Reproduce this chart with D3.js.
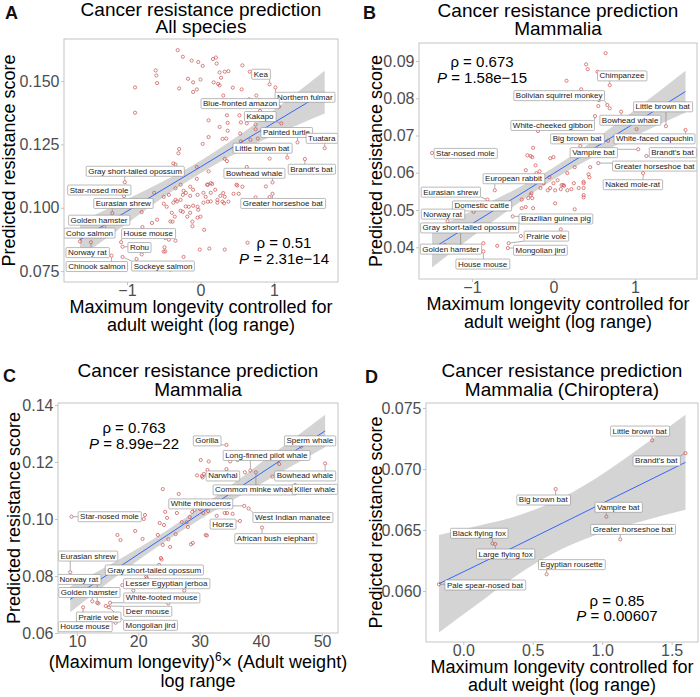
<!DOCTYPE html>
<html><head><meta charset="utf-8">
<script src="https://cdn.jsdelivr.net/npm/d3@7"></script>
<style>
body{margin:0;background:#fff}
svg{display:block}
text{font-family:"Liberation Sans",Arial,Helvetica,sans-serif}
</style>
</head><body>
<svg id="chart" width="700" height="697"></svg>
<script>
// ---------------- DATA ----------------
// Panel A: all species (x = max longevity controlled for weight, y = predicted score)
const speciesA = [
[-0.31,0.1622],[-0.24,0.1596],[-0.12,0.1581],[-0.03,0.1575],[0.03,0.1560],[0.17,0.1587],[0.21,0.1593],[0.22,0.1569],[0.57,0.1562],
[-0.61,0.1542],[-0.60,0.1522],[-0.59,0.1492],[-0.89,0.1475],[-0.89,0.1375],[-0.29,0.1471],[-0.17,0.1509],[-0.10,0.1495],[0.00,0.1506],[-0.10,0.1457],[-0.05,0.1467],
[0.26,0.1534],[0.33,0.1537],[0.38,0.1539],[0.18,0.1495],[0.24,0.1489],[0.26,0.1483],[0.28,0.1513],[0.31,0.1443],[0.44,0.1474],[0.56,0.1467],[0.76,0.1443],[0.67,0.1537],
[0.66,0.1428],[0.69,0.1425],[0.80,0.1425],[0.81,0.1382],
[0.11,0.1345],[0.26,0.1319],[0.36,0.1365],[0.37,0.1335],[0.37,0.1304],[0.53,0.1365],[0.55,0.1337],[0.63,0.1333],[0.75,0.1329],[0.75,0.1310],
[0.11,0.1279],[0.03,0.1252],[0.30,0.1272],[0.35,0.1273],[0.54,0.1293],[0.55,0.1262],[0.68,0.1268],[0.78,0.1273],
[-0.29,0.1232],[-0.30,0.1215],[-0.37,0.1175],[-0.34,0.1171],[-0.05,0.1161],[0.11,0.1144],[0.33,0.1193],[0.36,0.1184],[0.63,0.1161],[0.94,0.1194],
[-0.05,0.1114],[0.10,0.1091],[0.16,0.1094],[-0.14,0.1083],[-0.10,0.1071],[-0.23,0.1067],[-0.20,0.1059],[-0.24,0.1051],[-0.14,0.1047],[-0.04,0.1051],[0.04,0.1059],[0.07,0.1043],[0.14,0.1059],[-0.43,0.1051],[-0.50,0.1043],[-0.34,0.1031],[-0.37,0.1020],[-0.50,0.1016],[-0.46,0.1004],[-0.16,0.1004],[-0.10,0.1008],[-0.04,0.1004],[-0.03,0.0992],[0.04,0.1020],[0.10,0.1024],[0.23,0.1020],[0.30,0.1024],[0.33,0.1043],[0.27,0.1047],[0.38,0.1024],[0.45,0.1055],[0.52,0.1055],[0.49,0.1091],[0.57,0.1083],[-0.39,0.0980],[-0.35,0.0965],[-0.38,0.0945],[-0.27,0.0988],[-0.24,0.0984],[-0.18,0.0965],[-0.14,0.0980],[-0.11,0.0945],[-0.04,0.0961],[0.00,0.0965],[-0.63,0.1059],[-0.43,0.0874],[-0.34,0.0870],[0.64,0.0862],
[0.09,0.1091],[0.14,0.1097],[0.20,0.1071],[0.31,0.1058],[-0.32,0.1025],[-0.27,0.1031],[-0.20,0.1005],[0.14,0.1025],[-0.41,0.0946],[-0.45,0.0907],[-0.11,0.0927],[0.05,0.0913],[-0.66,0.0940],[-0.59,0.0953],[-0.27,0.1091],[-0.34,0.1077],
[-0.80,0.0983],[-0.79,0.0924],[-0.87,0.0798],[-0.80,0.0816],[-0.48,0.0881],[-0.49,0.0844],[-0.48,0.0828],[-0.50,0.0827],[-0.23,0.0806],[-0.01,0.0835],[0.12,0.0839],[0.33,0.0835],[-0.41,0.0756],
[0.50,0.1088],[0.89,0.1084],[0.75,0.1041],[0.94,0.1042],[0.23,0.1031],[0.32,0.1018]
];
const labelNamesA = ["Kea","Northern fulmar","Blue-fronted amazon","Kakapo","Painted turtle","Tuatara","Little brown bat","Brandt's bat","Gray short-tailed opossum","Bowhead whale","Star-nosed mole","Eurasian shrew","Greater horseshoe bat","Golden hamster","Coho salmon","House mouse","Rohu","Norway rat","Chinook salmon","Sockeye salmon"];
const labelPointsA = [[0.94,0.1487],[1.02,0.1475],[1.07,0.1399],[1.10,0.1333],[1.32,0.1258],[1.69,0.1235],[1.18,0.1198],[1.42,0.1192],[-1.03,0.1101],[0.98,0.1100],[-1.04,0.1046],[-1.20,0.0979],[0.98,0.1055],[-1.31,0.0925],[-1.64,0.0867],[-1.08,0.0864],[-1.06,0.0846],[-1.49,0.0864],[-1.21,0.0811],[-1.06,0.0806]];
const labelSpotsA = [[0.82,0.1527],[1.42,0.1436],[0.54,0.1411],[0.81,0.1360],[1.17,0.1297],[1.65,0.1274],[0.84,0.1235],[1.51,0.1152],[-0.89,0.1144],[0.73,0.1136],[-1.38,0.1070],[-1.05,0.1017],[1.12,0.1017],[-1.38,0.0951],[-1.51,0.0900],[-0.71,0.0898],[-0.83,0.0843],[-1.54,0.0823],[-1.41,0.0768],[-0.51,0.0770]];
const fitXA  = [-1.64,-1.0,-0.5,0,0.5,1.0,1.69];
const fitYA  = [0.0874,0.0986,0.1074,0.1161,0.1249,0.1336,0.1456];
const fitLoA = [0.0805,0.0938,0.1042,0.1136,0.1217,0.1286,0.1372];
const fitHiA = [0.0943,0.1034,0.1106,0.1186,0.1281,0.1386,0.1541];
const statsA = ["0.51","2.31e\u221214"];

// Panel B: Mammalia
const speciesB = [
[0.64,0.0921],[0.40,0.0891],[0.42,0.0878],[0.54,0.0871],[0.16,0.0847],[0.34,0.0824],[0.56,0.0795],[0.55,0.0779],[0.69,0.0773],[-0.19,0.0712],[1.02,0.0717],[0.33,0.0672],[-0.25,0.0667],
[-0.28,0.0645],[-0.26,0.0642],[-0.32,0.0647],[-0.04,0.0639],[0.00,0.0642],[-0.22,0.0620],[-0.17,0.0604],[-0.34,0.0607],[-0.05,0.0588],[0.00,0.0572],[0.05,0.0580],[0.10,0.0567],[0.12,0.0567],[0.13,0.0565],[0.22,0.0556],[0.25,0.0572],[0.31,0.0559],[0.37,0.0572],[0.37,0.0559],[0.45,0.0615],[0.43,0.0596],[-0.12,0.0572],[-0.16,0.0559],[-0.07,0.0553],[-0.04,0.0559],[0.02,0.0553],[0.09,0.0556],[0.17,0.0553],[-0.27,0.0545],[-0.31,0.0532],[-0.26,0.0532],[-0.25,0.0505],[-0.34,0.0508],[-0.39,0.0505],[0.02,0.0518],[0.26,0.0502],[0.37,0.0540],[0.09,0.0448],[-0.40,0.0430],[0.17,0.0599],[0.26,0.0615],[0.44,0.0588],[-0.21,0.0599],
[-0.69,0.0404],[-0.86,0.0411],[-0.20,0.0389],[-0.14,0.0388],[-0.54,0.0505],[-0.39,0.0528],[-0.28,0.0540],[0.37,0.0576],[0.37,0.0534]
];
const labelNamesB = ["Chimpanzee","Bolivian squirrel monkey","Little brown bat","Bowhead whale","White-cheeked gibbon","Big brown bat","White-faced capuchin","Star-nosed mole","Vampire bat","Brandt's bat","Greater horseshoe bat","Naked mole-rat","European rabbit","Eurasian shrew","Domestic cattle","Norway rat","Brazilian guinea pig","Gray short-tailed opossum","Prairie vole","Golden hamster","Mongolian jird","House mouse"];
const labelPointsB = [[0.69,0.0835],[0.66,0.0782],[1.38,0.0725],[0.83,0.0764],[0.51,0.0752],[0.67,0.0686],[1.62,0.0715],[-1.49,0.0653],[1.04,0.0663],[1.14,0.0645],[0.55,0.0626],[1.10,0.0599],[-0.72,0.0553],[-0.81,0.0528],[-0.98,0.0495],[-1.30,0.0470],[-0.50,0.0483],[-1.14,0.0404],[-0.55,0.0411],[-1.33,0.0406],[-0.56,0.0398],[-0.86,0.0389]];
const labelSpotsB = [[0.84,0.0860],[0.07,0.0807],[1.34,0.0777],[0.94,0.0741],[-0.01,0.0727],[0.29,0.0691],[1.24,0.0691],[-1.08,0.0652],[0.49,0.0654],[1.46,0.0654],[1.24,0.0618],[0.97,0.0568],[-0.49,0.0584],[-1.26,0.0548],[-0.88,0.0511],[-1.36,0.0489],[0.03,0.0476],[-1.03,0.0452],[-0.09,0.0430],[-1.26,0.0395],[-0.16,0.0392],[-0.87,0.0355]];
const fitXB  = [-1.49,-1.0,-0.5,0,0.5,1.0,1.62];
const fitYB  = [0.0396,0.0463,0.0530,0.0598,0.0666,0.0734,0.0818];
const fitLoB = [0.0346,0.0428,0.0508,0.0582,0.0644,0.0699,0.0762];
const fitHiB = [0.0446,0.0498,0.0552,0.0614,0.0688,0.0769,0.0874];
const statsB = ["0.673","1.58e\u221215"];

// Panel C: Mammalia, (max longevity)^6 x (adult weight)
const speciesC = [
[30.2,0.1207],[31.5,0.1202],[35.0,0.1202],[36.2,0.1207],[37.6,0.1215],[31.3,0.1172],[34.4,0.1175],[29.6,0.1153],[30.7,0.1158],[30.5,0.1146],[37.4,0.1164],[43.0,0.1193],[41.9,0.1149],[24.0,0.1105],[26.6,0.1088],[21.1,0.1014],[20.9,0.1000],
[24.4,0.1025],[23.5,0.0986],[24.2,0.0979],[24.7,0.1004],[26.3,0.1021],[28.8,0.1025],[29.2,0.1032],[30.1,0.1035],[30.6,0.1021],[31.4,0.1028],[28.4,0.1007],[27.9,0.0989],[27.1,0.0989],[28.1,0.0972],[23.2,0.0944],[24.0,0.0909],[25.2,0.0902],[26.1,0.0947],[34.1,0.1021],[34.5,0.1021],[35.4,0.1018],[32.8,0.1011],[31.0,0.0944],[28.9,0.0916],[23.7,0.0863],
[16.6,0.0944],[19.5,0.0958],[17.1,0.0926],[20.7,0.0930],[24.9,0.0929],[28.6,0.0911],[31.2,0.0942],[23.8,0.0858],[23.4,0.0839],[21.4,0.0792],[19.2,0.0749],[27.5,0.0749],[13.5,0.0704],[24.9,0.0704],[16.4,0.0657],[16.3,0.0636]
];
const labelNamesC = ["Gorilla","Sperm whale","Long-finned pilot whale","Narwhal","Bowhead whale","Common minke whale","Killer whale","White rhinoceros","Star-nosed mole","West Indian manatee","Horse","African bush elephant","Eurasian shrew","Gray short-tailed opossum","Norway rat","Lesser Egyptian jerboa","Golden hamster","White-footed mouse","Deer mouse","Prairie vole","Mongolian jird","House mouse"];
const labelPointsC = [[34.4,0.1260],[46.6,0.1254],[38.3,0.1170],[30.4,0.1151],[50.5,0.1195],[39.2,0.1164],[45.6,0.1119],[37.3,0.1046],[9.1,0.1008],[38.0,0.1037],[36.6,0.0993],[40.2,0.0970],[8.9,0.0813],[21.3,0.0798],[13.3,0.0706],[17.4,0.0768],[12.5,0.0711],[15.4,0.0706],[14.7,0.0695],[11.0,0.0690],[15.2,0.0690],[11.3,0.0646]];
const labelSpotsC = [[31.2,0.1274],[48.0,0.1274],[40.9,0.1223],[33.8,0.1151],[47.2,0.1151],[39.0,0.1102],[48.8,0.1104],[30.2,0.1053],[15.3,0.1008],[45.2,0.1005],[33.8,0.0982],[42.4,0.0931],[11.8,0.0870],[22.6,0.0821],[10.3,0.0788],[24.6,0.0773],[12.0,0.0742],[23.8,0.0723],[21.5,0.0676],[13.5,0.0656],[22.0,0.0627],[11.3,0.0622]];
const fitXC  = [8.9,15,20,25,30,35,40,45,50.5];
const fitYC  = [0.0718,0.0805,0.0876,0.0947,0.1018,0.1089,0.1160,0.1231,0.1309];
const fitLoC = [0.0673,0.0775,0.0855,0.0929,0.0997,0.1061,0.1123,0.1185,0.1252];
const fitHiC = [0.0763,0.0835,0.0897,0.0965,0.1039,0.1117,0.1197,0.1277,0.1366];
const statsC = ["0.763","8.99e\u221222"];

// Panel D: Chiroptera
const speciesD = [];
const labelNamesD = ["Little brown bat","Brandt's bat","Big brown bat","Vampire bat","Greater horseshoe bat","Black flying fox","Large flying fox","Egyptian rousette","Pale spear-nosed bat"];
const labelPointsD = [[1.36,0.07235],[1.60,0.0713],[0.665,0.06836],[1.03,0.06609],[1.13,0.06423],[0.21,0.0639],[0.23,0.06385],[0.60,0.06137],[-0.175,0.06055]];
const labelSpotsD = [[1.27,0.07311],[1.39,0.07066],[0.576,0.06746],[1.116,0.06686],[1.22,0.06505],[0.115,0.06473],[0.305,0.06303],[0.78,0.06216],[0.156,0.06049]];
const fitXD  = [-0.175,0.1,0.4,0.72,1.0,1.3,1.6];
const fitYD  = [0.0606,0.06212,0.06380,0.06560,0.06718,0.06886,0.07055];
const fitLoD = [0.0566,0.05892,0.0614,0.0635,0.06478,0.06576,0.06665];
const fitHiD = [0.0646,0.06532,0.0662,0.0677,0.06958,0.07196,0.07445];
const statsD = ["0.85","0.00607"];

// tick values
const xTicksA = [-1,0,1], yTicksA = [0.075,0.100,0.125,0.150];
const xTicksB = [-1,0,1], yTicksB = [0.04,0.05,0.06,0.07,0.08,0.09];
const xTicksC = [10,20,30,40,50], yTicksC = [0.06,0.08,0.10,0.12,0.14];
const xTicksD = [0.0,0.5,1.0,1.5], yTicksD = [0.060,0.065,0.070,0.075];

// ---------------- DRAWING ----------------
const svg = d3.select("#chart");
const POINT = "#c8504f", GRID = "#c4c4c4", TICKTXT = "#4d4d4d";
const xTitleStd = ["Maximum longevity controlled for","adult weight (log range)"];

const panels = [
 {letter:"A", lx:5, ly:19, rect:[64,39,338,282], xd:[-1.857,1.871], yd:[0.0707,0.1666],
  xt:xTicksA, yt:yTicksA, xf:d3.format(".0f"), yf:d3.format(".3f"),
  title:["Cancer resistance prediction","All species"], tb:[16,33], xTitle:xTitleStd, xtb:[313,331], ytx:15,
  pts:speciesA, names:labelNamesA, lp:labelPointsA, ls:labelSpotsA,
  fx:fitXA, fy:fitYA, flo:fitLoA, fhi:fitHiA, stats:statsA, sx:284, sb:[248,264]},
 {letter:"B", lx:363, ly:19, rect:[419,43,697,279], xd:[-1.650,1.761], yd:[0.03149,0.09483],
  xt:xTicksB, yt:yTicksB, xf:d3.format(".0f"), yf:d3.format(".2f"),
  title:["Cancer resistance prediction","Mammalia"], tb:[17,35], xTitle:xTitleStd, xtb:[310,328], ytx:382,
  pts:speciesB, names:labelNamesB, lp:labelPointsB, ls:labelSpotsB,
  fx:fitXB, fy:fitYB, flo:fitLoB, fhi:fitHiB, stats:statsB, sx:482, sb:[67,83]},
 {letter:"C", lx:3, ly:382, rect:[58,403,338,633], xd:[6.90,52.6], yd:[0.060,0.1407],
  xt:xTicksC, yt:yTicksC, xf:d3.format(".0f"), yf:d3.format(".2f"),
  title:["Cancer resistance prediction","Mammalia"], tb:[377,396], xTitle:null, xtb:[668,687], ytx:20,
  pts:speciesC, names:labelNamesC, lp:labelPointsC, ls:labelSpotsC,
  fx:fitXC, fy:fitYC, flo:fitLoC, fhi:fitHiC, stats:statsC, sx:134, sb:[433,449]},
 {letter:"D", lx:365, ly:383, rect:[426,403,698,642], xd:[-0.2685,1.690], yd:[0.05582,0.07541],
  xt:xTicksD, yt:yTicksD, xf:d3.format(".1f"), yf:d3.format(".3f"),
  title:["Cancer resistance prediction","Mammalia (Chiroptera)"], tb:[377,396], xTitle:xTitleStd, xtb:[673,691], ytx:382,
  pts:speciesD, names:labelNamesD, lp:labelPointsD, ls:labelSpotsD,
  fx:fitXD, fy:fitYD, flo:fitLoD, fhi:fitHiD, stats:statsD, sx:617, sb:[606,621]}
];

const minus = s => s.replace("-", "\u2212");

panels.forEach(p => {
  const [l,t,r,b] = p.rect;
  const x = d3.scaleLinear().domain(p.xd).range([l,r]);
  const y = d3.scaleLinear().domain(p.yd).range([b,t]);
  const g = svg.append("g");
  const clipId = "clip"+p.letter;
  g.append("clipPath").attr("id",clipId).append("rect").attr("x",l).attr("y",t).attr("width",r-l).attr("height",b-t);

  g.append("rect").attr("x",l).attr("y",t).attr("width",r-l).attr("height",b-t).attr("fill","#fff");

  // axes (ticks + labels)
  const xa = d3.axisBottom(x).tickValues(p.xt).tickSize(3).tickPadding(1).tickFormat(d => minus(p.xf(d)));
  const ya = d3.axisLeft(y).tickValues(p.yt).tickSize(3).tickPadding(1.5).tickFormat(d => p.yf(d));
  const gx = g.append("g").attr("transform",`translate(0,${b})`).call(xa);
  const gy = g.append("g").attr("transform",`translate(${l},0)`).call(ya);
  [gx,gy].forEach(a => {
    a.select(".domain").remove();
    a.selectAll(".tick line").attr("stroke",GRID).attr("stroke-width",1);
    a.selectAll(".tick text").attr("fill",TICKTXT).attr("font-size",16)
      .attr("font-family",'"Liberation Sans",Arial,sans-serif');
  });
  gx.selectAll(".tick text").attr("y",14).attr("dy",0);

  const inner = g.append("g").attr("clip-path",`url(#${clipId})`);
  // confidence band
  const fit = p.fx.map((v,i)=>({x:v, y:p.fy[i], lo:p.flo[i], hi:p.fhi[i]}));
  inner.append("path").datum(fit)
    .attr("d", d3.area().x(d=>x(d.x)).y0(d=>y(d.lo)).y1(d=>y(d.hi)).curve(d3.curveMonotoneX))
    .attr("fill","#d4d4d4");
  // points
  const allPts = p.pts.concat(p.lp);
  inner.selectAll("circle.pt").data(allPts).join("circle")
    .attr("cx",d=>x(d[0])).attr("cy",d=>y(d[1])).attr("r",1.6)
    .attr("fill","none").attr("stroke",POINT).attr("stroke-width",0.7);
  // regression line
  inner.append("path").datum(fit)
    .attr("d", d3.line().x(d=>x(d.x)).y(d=>y(d.y)))
    .attr("fill","none").attr("stroke","#3366ff").attr("stroke-width",1);

  // labels
  const segG = inner.append("g");
  const labG = inner.append("g");
  p.names.forEach((name,i) => {
    const cx = x(p.ls[i][0]), cy = y(p.ls[i][1]);
    const txt = labG.append("text").attr("x",cx).attr("y",cy)
      .attr("text-anchor","middle").attr("dominant-baseline","central")
      .attr("font-size",8).attr("fill","#1a1a1a").text(name);
    const bb = txt.node().getBBox();
    const x0 = bb.x-2, x1 = bb.x+bb.width+2, y0 = bb.y-0.5, y1 = bb.y+bb.height+0.5;
    labG.insert("rect", () => txt.node())
      .attr("x",x0).attr("y",y0).attr("width",x1-x0).attr("height",y1-y0)
      .attr("rx",1).attr("fill","#fff").attr("stroke","#8c8c8c").attr("stroke-width",0.6);
    const px = x(p.lp[i][0]), py = y(p.lp[i][1]);
    const qx = Math.max(x0, Math.min(x1, px)), qy = Math.max(y0, Math.min(y1, py));
    const dist = Math.hypot(qx-px, qy-py);
    if (dist > 2.5) {
      const k = 1.8/dist;
      segG.append("line").attr("x1",px+(qx-px)*k).attr("y1",py+(qy-py)*k).attr("x2",qx).attr("y2",qy)
        .attr("stroke","#7a7a7a").attr("stroke-width",0.6);
    }
  });

  // panel border
  g.append("rect").attr("x",l).attr("y",t).attr("width",r-l).attr("height",b-t)
    .attr("fill","none").attr("stroke",GRID).attr("stroke-width",1);

  // stats
  const st = g.append("g").attr("font-size",15).attr("fill","#000").attr("text-anchor","middle");
  st.append("text").attr("x",p.sx).attr("y",p.sb[0]).text("\u03c1 = " + p.stats[0]);
  const t2 = st.append("text").attr("x",p.sx).attr("y",p.sb[1]);
  t2.append("tspan").attr("font-style","italic").text("P");
  t2.append("tspan").text(" = " + p.stats[1]);

  // titles
  const cxp = (l+r)/2;
  p.title.forEach((s,i) => g.append("text").attr("x",cxp).attr("y",p.tb[i]).attr("text-anchor","middle")
    .attr("font-size",19).attr("fill","#000").text(s));
  if (p.xTitle) {
    p.xTitle.forEach((s,i) => g.append("text").attr("x",cxp).attr("y",p.xtb[i]).attr("text-anchor","middle")
      .attr("font-size",18).attr("fill","#000").text(s));
  } else {
    const t1 = g.append("text").attr("x",cxp).attr("y",p.xtb[0]).attr("text-anchor","middle")
      .attr("font-size",18).attr("fill","#000");
    t1.append("tspan").text("(Maximum longevity)");
    t1.append("tspan").attr("font-size",12).attr("dy",-7).text("6");
    t1.append("tspan").attr("dy",7).text("\u00d7 (Adult weight)");
    g.append("text").attr("x",cxp).attr("y",p.xtb[1]).attr("text-anchor","middle")
      .attr("font-size",18).attr("fill","#000").text("log range");
  }
  g.append("text").attr("transform",`translate(${p.ytx},${(t+b)/2}) rotate(-90)`)
    .attr("text-anchor","middle").attr("font-size",18).attr("fill","#000").text("Predicted resistance score");

  // panel letter
  g.append("text").attr("x",p.lx).attr("y",p.ly).attr("font-family","Lato, 'Open Sans', sans-serif")
    .attr("font-weight",900).attr("font-size",18).attr("fill","#111").text(p.letter);
});
</script>
</body></html>
